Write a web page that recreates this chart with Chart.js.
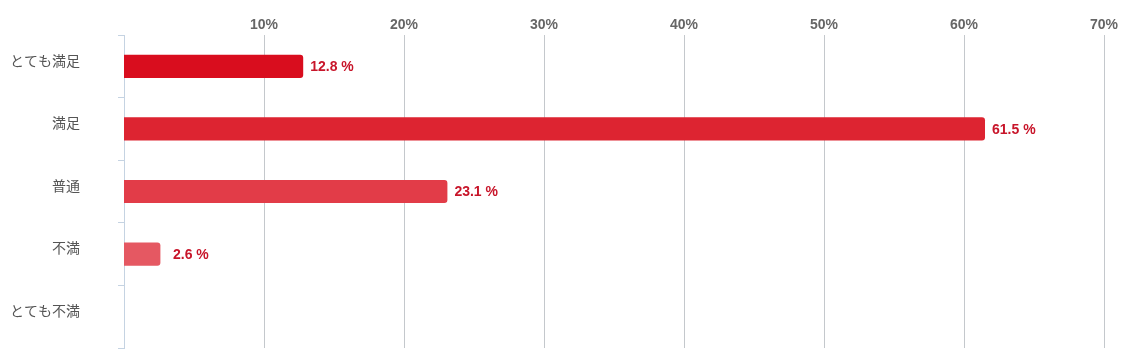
<!DOCTYPE html>
<html>
<head>
<meta charset="utf-8">
<script src="https://cdn.jsdelivr.net/npm/chart.js@4/dist/chart.umd.min.js"></script>
<style>
html,body{margin:0;padding:0;background:#fff;}
#wrap{width:1124px;height:363px;}
</style>
</head>
<body>
<div id="wrap"><canvas id="c" width="1124" height="363"></canvas></div>
<script>
const categories = ['とても満足', '満足', '普通', '不満', 'とても不満'];
const values = [12.8, 61.5, 23.1, 2.6, 0];
const valueLabels = ['12.8 %', '61.5 %', '23.1 %', '2.6 %', ''];
const barColors = ['#d90d1e', '#dd2431', '#e23c48', '#e55862', '#e87078'];
const xTicks = [10, 20, 30, 40, 50, 60, 70];

const labelPlugin = {
  id: 'valueLabels',
  afterDatasetsDraw(chart) {
    const ctx = chart.ctx;
    const meta = chart.getDatasetMeta(0);
    const base = chart.scales.x.getPixelForValue(0);
    ctx.save();
    ctx.font = 'bold 14px "Liberation Sans", Arial, sans-serif';
    ctx.fillStyle = '#c8152a';
    ctx.textAlign = 'left';
    ctx.textBaseline = 'middle';
    meta.data.forEach((bar, i) => {
      if (!valueLabels[i]) return;
      const x = Math.max(bar.x + 7, base + 49);
      ctx.fillText(valueLabels[i], x, bar.y + 1);
    });
    ctx.restore();
  }
};

new Chart(document.getElementById('c'), {
  type: 'bar',
  data: {
    labels: categories,
    datasets: [{
      data: values,
      backgroundColor: barColors,
      borderRadius: {topLeft: 0, bottomLeft: 0, topRight: 3, bottomRight: 3},
      borderSkipped: 'start',
      barPercentage: 0.37,
      categoryPercentage: 1
    }]
  },
  options: {
    indexAxis: 'y',
    responsive: false,
    animation: false,
    layout: {padding: {left: 10, right: 20, top: 0, bottom: 15}},
    plugins: {legend: {display: false}, tooltip: {enabled: false}},
    scales: {
      x: {
        position: 'top',
        min: 0,
        max: 70,
        afterFit(s) { s.height = 35; s.paddingLeft = 0; s.paddingRight = 0; },
        afterBuildTicks(s) { s.ticks = xTicks.map(v => ({value: v})); },
        border: {display: false},
        grid: {color: '#c4c8cc', lineWidth: 1, drawTicks: false},
        ticks: {
          padding: 1,
          color: '#666',
          font: {family: '"Liberation Sans", Arial, sans-serif', size: 14, weight: 'bold'},
          callback: v => v + '%'
        }
      },
      y: {
        offset: true,
        afterFit(s) { s.width = 114; s.paddingTop = 0; s.paddingBottom = 0; },
        border: {display: true, color: '#c5d3e2', width: 1},
        grid: {drawOnChartArea: false, tickLength: 6, color: '#c5d3e2', offset: true},
        ticks: {
          padding: 38,
          labelOffset: -6,
          color: '#555',
          font: {family: '"Noto Sans CJK JP", sans-serif', size: 14}
        }
      }
    }
  },
  plugins: [labelPlugin]
});
</script>
</body>
</html>
